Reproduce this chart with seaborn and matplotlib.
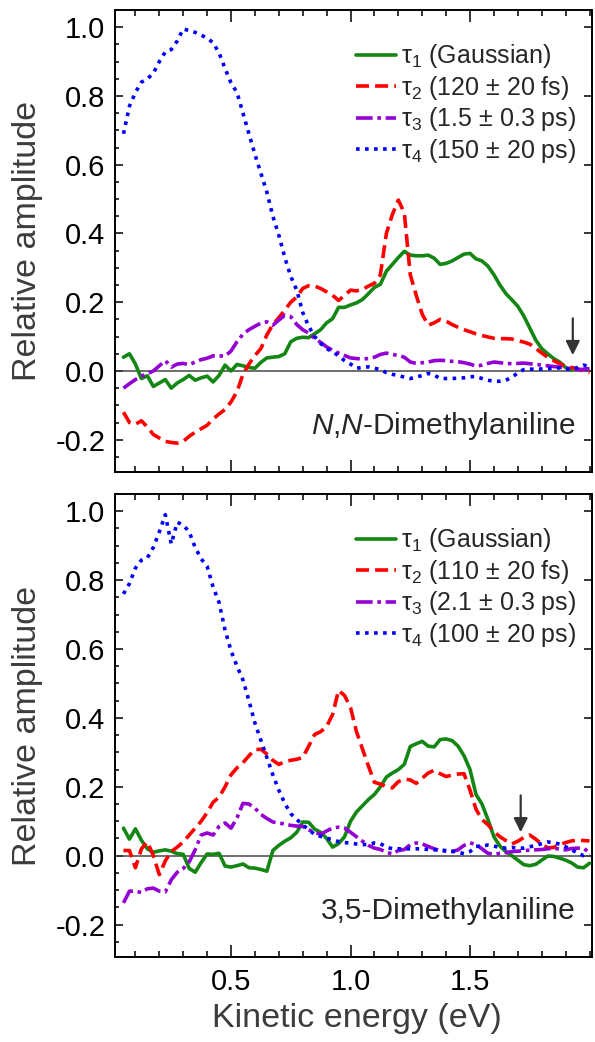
import numpy as np
import matplotlib
matplotlib.use("Agg")
import matplotlib.pyplot as plt
from matplotlib.ticker import MultipleLocator, FixedLocator
import seaborn as sns

sns.set_theme(style="ticks")
plt.rcParams["font.family"] = ["Liberation Sans", "DejaVu Sans"]
plt.rcParams["mathtext.fontset"] = "custom"
plt.rcParams["mathtext.rm"] = "Liberation Sans"
plt.rcParams["mathtext.it"] = "Liberation Sans:italic"
plt.rcParams["axes.unicode_minus"] = False

# energy grid (eV), 0.05 .. 2.00 in 0.025 steps
energy = np.linspace(0.05, 2.0, 79)

# --- N,N-Dimethylaniline (top panel) ---
nn_tau1 = [0.04, 0.05, 0.02, -0.022, -0.014, -0.045, -0.035, -0.025, -0.05, -0.035,
           -0.025, -0.013, -0.027, -0.02, -0.015, -0.032, -0.013, 0.017, 0.0, 0.019,
           0.015, 0.01, 0.008, 0.025, 0.038, 0.04, 0.042, 0.05, 0.085, 0.095,
           0.098, 0.097, 0.108, 0.12, 0.14, 0.152, 0.185, 0.185, 0.192, 0.198,
           0.208, 0.225, 0.243, 0.252, 0.29, 0.31, 0.33, 0.348, 0.337, 0.335,
           0.335, 0.337, 0.328, 0.31, 0.313, 0.32, 0.33, 0.34, 0.342, 0.326,
           0.32, 0.305, 0.28, 0.25, 0.225, 0.207, 0.188, 0.16, 0.125, 0.09,
           0.065, 0.05, 0.036, 0.026, 0.01, 0.002, np.nan, np.nan, np.nan]
nn_tau2 = [-0.12, -0.15, -0.155, -0.145, -0.163, -0.185, -0.195, -0.205, -0.208, -0.21,
           -0.205, -0.19, -0.178, -0.168, -0.158, -0.14, -0.125, -0.112, -0.09, -0.06,
           -0.01, 0.02, 0.045, 0.065, 0.105, 0.135, 0.155, 0.177, 0.2, 0.215,
           0.24, 0.248, 0.247, 0.24, 0.23, 0.22, 0.205, 0.22, 0.235, 0.233,
           0.237, 0.247, 0.255, 0.28, 0.40, 0.455, 0.497, 0.46, 0.28, 0.22,
           0.165, 0.133, 0.14, 0.15, 0.145, 0.135, 0.127, 0.12, 0.114, 0.108,
           0.103, 0.099, 0.095, 0.094, 0.094, 0.093, 0.088, 0.084, 0.078, 0.066,
           0.052, 0.04, 0.03, 0.021, 0.014, 0.01, 0.006, 0.0, -0.005]
nn_tau3 = [-0.05, -0.037, -0.025, -0.015, -0.008, 0.0, 0.015, 0.03, 0.011, 0.02,
           0.022, 0.018, 0.026, 0.033, 0.037, 0.044, 0.044, 0.043, 0.058, 0.085,
           0.107, 0.12, 0.13, 0.139, 0.143, 0.133, 0.148, 0.162, 0.158, 0.135,
           0.12, 0.11, 0.095, 0.083, 0.07, 0.06, 0.052, 0.045, 0.038, 0.036,
           0.035, 0.036, 0.04, 0.048, 0.052, 0.048, 0.045, 0.04, 0.026, 0.022,
           0.024, 0.026, 0.03, 0.031, 0.03, 0.028, 0.027, 0.024, 0.02, 0.014,
           0.017, 0.022, 0.026, 0.024, 0.022, 0.021, 0.022, 0.023, 0.021, 0.019,
           0.017, 0.015, 0.013, 0.011, 0.009, 0.006, 0.004, 0.005, 0.007]
nn_tau4 = [0.69, 0.77, 0.81, 0.84, 0.85, 0.866, 0.90, 0.928, 0.935, 0.96,
           0.995, 0.99, 0.985, 0.977, 0.968, 0.955, 0.925, 0.88, 0.838, 0.81,
           0.75, 0.69, 0.63, 0.575, 0.52, 0.45, 0.395, 0.33, 0.275, 0.235,
           0.17, 0.13, 0.10, 0.08, 0.065, 0.056, 0.044, 0.03, 0.02, 0.008,
           0.01, 0.012, 0.008, 0.004, -0.005, -0.01, -0.013, -0.018, -0.022, -0.018,
           -0.013, -0.007, -0.012, -0.022, -0.022, -0.022, -0.021, -0.02, -0.017, -0.016,
           -0.022, -0.027, -0.03, -0.03, -0.027, -0.018, -0.006, 0.004, 0.006, 0.004,
           0.006, 0.007, 0.008, 0.009, 0.006, 0.004, 0.01, 0.017, 0.012]
nn_labels = ["τ${}_{1}$ (Gaussian)", "τ${}_{2}$ (120 ± 20 fs)",
             "τ${}_{3}$ (1.5 ± 0.3 ps)", "τ${}_{4}$ (150 ± 20 ps)"]

# --- 3,5-Dimethylaniline (bottom panel) ---
dm_tau1 = [0.08, 0.048, 0.078, 0.045, 0.02, 0.01, 0.014, 0.017, 0.013, 0.006,
           0.004, -0.037, -0.048, -0.02, 0.005, 0.004, 0.007, -0.03, -0.033, -0.029,
           -0.024, -0.035, -0.036, -0.04, -0.045, 0.015, 0.03, 0.042, 0.052, 0.068,
           0.098, 0.097, 0.077, 0.068, 0.05, 0.025, 0.035, 0.055, 0.1, 0.127,
           0.145, 0.163, 0.178, 0.2, 0.228, 0.24, 0.25, 0.265, 0.317, 0.325,
           0.332, 0.318, 0.316, 0.337, 0.339, 0.334, 0.318, 0.29, 0.25, 0.178,
           0.15, 0.105, 0.055, 0.028, 0.012, 0.0, -0.013, -0.026, -0.029, -0.025,
           -0.013, -0.001, -0.002, -0.007, -0.013, -0.021, -0.033, -0.035, -0.022]
dm_tau2 = [0.015, 0.015, -0.035, 0.02, 0.04, 0.0, -0.055, -0.015, 0.012, 0.025,
           0.04, 0.06, 0.08, 0.1, 0.125, 0.155, 0.17, 0.2, 0.235, 0.255,
           0.27, 0.29, 0.308, 0.309, 0.295, 0.277, 0.265, 0.273, 0.277, 0.28,
           0.285, 0.318, 0.352, 0.36, 0.375, 0.41, 0.48, 0.465, 0.43, 0.36,
           0.31, 0.26, 0.213, 0.208, 0.2, 0.197, 0.215, 0.222, 0.22, 0.21,
           0.225, 0.24, 0.248, 0.238, 0.23, 0.234, 0.237, 0.238, 0.19, 0.135,
           0.105, 0.09, 0.07, 0.055, 0.044, 0.034, 0.042, 0.053, 0.06, 0.048,
           0.033, 0.023, 0.024, 0.032, 0.038, 0.043, 0.045, 0.044, 0.043]
dm_tau3 = [-0.137, -0.103, -0.103, -0.107, -0.096, -0.094, -0.103, -0.105, -0.07, -0.048,
           -0.037, -0.018, 0.017, 0.06, 0.066, 0.06, 0.085, 0.095, 0.08, 0.11,
           0.152, 0.15, 0.138, 0.12, 0.108, 0.098, 0.095, 0.092, 0.088, 0.086,
           0.085, 0.075, 0.068, 0.062, 0.072, 0.08, 0.083, 0.08, 0.068, 0.055,
           0.042, 0.03, 0.022, 0.018, 0.01, 0.005, 0.015, 0.018, 0.032, 0.037,
           0.034, 0.027, 0.02, 0.015, 0.013, 0.012, 0.017, 0.03, 0.037, 0.033,
           0.02, 0.007, 0.004, 0.007, 0.009, 0.012, 0.013, 0.015, 0.016, 0.017,
           0.018, 0.02, 0.022, 0.019, 0.017, 0.021, 0.022, 0.022, 0.008]
dm_tau4 = [0.76, 0.79, 0.835, 0.858, 0.865, 0.895, 0.94, 0.99, 0.905, 0.968,
           0.96, 0.94, 0.895, 0.862, 0.84, 0.78, 0.735, 0.655, 0.595, 0.55,
           0.51, 0.45, 0.385, 0.335, 0.285, 0.235, 0.19, 0.152, 0.122, 0.105,
           0.09, 0.075, 0.062, 0.056, 0.051, 0.046, 0.041, 0.038, 0.037, 0.034,
           0.032, 0.033, 0.037, 0.035, 0.025, 0.02, 0.02, 0.02, 0.02, 0.02,
           0.02, 0.018, 0.017, 0.016, 0.015, 0.013, 0.01, 0.006, 0.012, 0.027,
           0.028, 0.031, 0.028, 0.024, 0.022, 0.024, 0.022, 0.022, 0.026, 0.03,
           0.035, 0.04, 0.037, 0.034, 0.026, 0.017, 0.008, 0.0, 0.002]
dm_labels = ["τ${}_{1}$ (Gaussian)", "τ${}_{2}$ (110 ± 20 fs)",
             "τ${}_{3}$ (2.1 ± 0.3 ps)", "τ${}_{4}$ (100 ± 20 ps)"]

colors = ["#138613", "#ff0000", "#9400d3", "#0000ff"]
styles = ["-", (0, (3.6, 1.7)), (0, (4.6, 1.3, 1.0, 1.3)), (0, (1.0, 1.5))]


def draw_panel(ax, series, labels, molecule, arrow_x, arrow_y):
    ax.hlines(0, energy[0], energy[-1], color="#555555", lw=1.2, zorder=1)
    for vals, lab, col, ls in zip(series, labels, colors, styles):
        sns.lineplot(x=energy, y=vals, ax=ax, color=col, lw=2.6, linestyle=ls,
                     label=lab, estimator=None, sort=False, zorder=3)
    ax.annotate("", xy=(arrow_x, arrow_y[1]), xytext=(arrow_x, arrow_y[0]),
                arrowprops=dict(arrowstyle="-|>", color="#333333", lw=1.6,
                                mutation_scale=21, shrinkA=0, shrinkB=0))
    ax.text(0.965, 0.1, molecule, transform=ax.transAxes, ha="right",
            va="center", fontsize=21.5)

    ax.set_xlim(0.0146, 2.0105)
    ax.set_ylim(-0.294, 1.05)
    ax.xaxis.set_major_locator(FixedLocator([0.5, 1.0, 1.5]))
    ax.xaxis.set_minor_locator(MultipleLocator(0.1))
    ax.yaxis.set_major_locator(MultipleLocator(0.2))
    ax.yaxis.set_minor_locator(MultipleLocator(0.05))
    ax.tick_params(which="both", direction="in", top=True, right=True,
                   width=1.1, colors="black", labelsize=21)
    ax.tick_params(axis="x", which="major", length=8.5, pad=8)
    ax.tick_params(axis="x", which="minor", length=4)
    ax.tick_params(axis="y", which="major", length=6, pad=7)
    ax.tick_params(axis="y", which="minor", length=3.2, right=False)
    for sp in ax.spines.values():
        sp.set_linewidth(1.4)
        sp.set_color("black")

    ax.legend(loc="upper left", bbox_to_anchor=(0.505, 0.93), frameon=False,
              fontsize=18, handlelength=1.6, handletextpad=0.2,
              labelspacing=0.14, borderpad=0, borderaxespad=0)
    ax.set_ylabel("Relative amplitude", fontsize=24.5, color="#3c3c3c")
    ax.yaxis.set_label_coords(-0.152, 0.5)


fig = plt.figure(figsize=(5.95, 10.42), dpi=100)
ax_top = fig.add_axes([0.1933, 0.5470, 0.8017, 0.4434])
ax_bot = fig.add_axes([0.1933, 0.0816, 0.8017, 0.4443])

draw_panel(ax_top, [nn_tau1, nn_tau2, nn_tau3, nn_tau4], nn_labels,
           r"$\it{N}$,$\it{N}$-Dimethylaniline", 1.93, (0.153, 0.046))
draw_panel(ax_bot, [dm_tau1, dm_tau2, dm_tau3, dm_tau4], dm_labels,
           "3,5-Dimethylaniline", 1.712, (0.175, 0.068))

ax_top.tick_params(axis="x", labelbottom=False)
ax_top.set_xlabel("")
ax_bot.set_xlabel("Kinetic energy (eV)", fontsize=24.5, color="#3c3c3c")
ax_bot.xaxis.set_label_coords(0.506, -0.1)

fig.savefig("out.png", dpi=100)
